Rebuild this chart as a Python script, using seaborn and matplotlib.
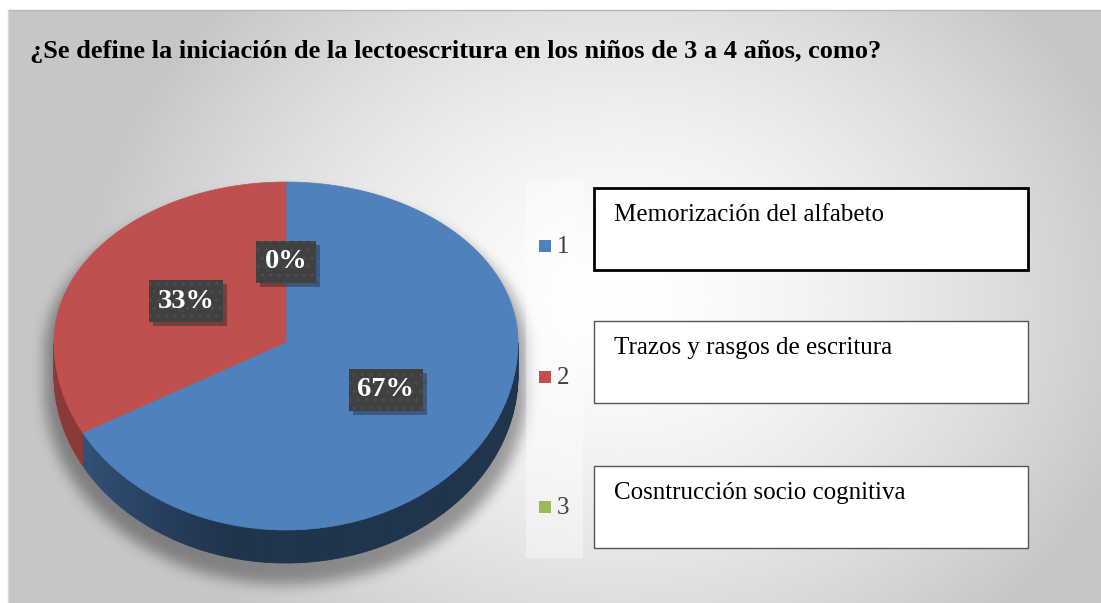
import numpy as np
import matplotlib
matplotlib.use("Agg")
import matplotlib.pyplot as plt
from matplotlib.patches import Polygon, Rectangle
import matplotlib.patheffects as pe
import seaborn as sns

# data
categories = ["1", "2", "3"]
shares = [67, 33, 0]
descriptions = ["Memorización del alfabeto",
                "Trazos y rasgos de escritura",
                "Cosntrucción socio cognitiva"]
title = "¿Se define la iniciación de la lectoescritura en los niños de 3 a 4 años, como?"

sns.set_theme(style="white")
plt.rcParams['font.family'] = ['Liberation Serif', 'DejaVu Serif']
palette = sns.color_palette(["#4F81BD", "#C0504D", "#9BBB59"])

W, H = 1101, 603
fig = plt.figure(figsize=(W / 100, H / 100), dpi=100)
ax = fig.add_axes([0, 0, 1, 1])
ax.set_xlim(0, W)
ax.set_ylim(H, 0)
ax.axis('off')

# radial grey background of the chart area
left, top = 8, 10
yy, xx = np.mgrid[0:H, 0:W] + 0.5
d = np.sqrt(((xx - 620) / 540) ** 2 + ((yy - 300) / 440) ** 2)
bg = 255 - 57 * np.clip(d, 0, 1) ** 1.5
bg[:top, :] = 255
bg[:, :left] = 255
ax.imshow(np.dstack([bg, bg, bg]).astype(np.uint8), extent=(0, W, H, 0),
          interpolation='bilinear', zorder=0)
ax.set_aspect('auto')
ax.plot([left, W], [top, top], color="#b8b8b8", lw=1, zorder=1)
ax.plot([left, left], [top, H], color="#d8d8d8", lw=1, zorder=1)

# pie geometry (perspective: front half taller than back half)
cx, cy = 286, 342
rx, ry_back, ry_front = 232, 160, 188
depth = 33


def pt(theta):
    th = np.radians(theta)
    s = np.sin(th)
    ry = np.where(s > 0, ry_back, ry_front)
    return cx + rx * np.cos(th), cy - ry * s


# soft shadow under the pie
u = (xx - cx) / (rx * 1.04)
inside = np.abs(u) <= 1
s = np.sqrt(np.clip(1 - u ** 2, 0, None))
mask = (inside & (yy >= cy - ry_back * s + 10) & (yy <= cy + ry_front * 1.04 * s + depth + 14)).astype(float)


def box_blur(a, r):
    for axis in (0, 1):
        c = np.cumsum(np.pad(a, [(r + 1, r) if i == axis else (0, 0) for i in range(2)], mode='edge'), axis=axis)
        if axis == 0:
            a = (c[2 * r + 1:, :] - c[:-2 * r - 1, :]) / (2 * r + 1)
        else:
            a = (c[:, 2 * r + 1:] - c[:, :-2 * r - 1]) / (2 * r + 1)
    return a


for _ in range(3):
    mask = box_blur(mask, 6)
shadow = np.zeros((H, W, 4))
shadow[..., 3] = 0.36 * mask
ax.imshow(shadow, extent=(0, W, H, 0), interpolation='bilinear', zorder=1)
ax.set_aspect('auto')

# slice angles, clockwise from 12 o'clock
fracs = np.array(shares, dtype=float) / sum(shares)
ends = 90 - 360 * np.cumsum(fracs)
starts = np.concatenate([[90], ends[:-1]])

# side wall (front half only)
side_dark = {0: 0.40, 1: 0.72, 2: 0.6}
for i, (a0, a1) in enumerate(zip(starts, ends)):
    for t0 in np.arange(a1, a0, 1.0):
        t1 = min(t0 + 1.0, a0)
        tm = (t0 + t1) / 2 % 360
        if not (180 <= tm <= 360):
            continue
        if i == 0:
            f = 0.40 + 0.38 * np.clip((256 - tm) / 76, 0, 1)
        else:
            f = side_dark[i]
        col = np.array(palette[i]) * f
        x0, y0 = pt(t0)
        x1, y1 = pt(t1)
        ax.add_patch(Polygon([(x0, y0), (x1, y1), (x1, y1 + depth), (x0, y0 + depth)],
                             closed=True, facecolor=col, edgecolor=col, lw=0.6, zorder=2))

# top faces
for i, (a0, a1) in enumerate(zip(starts, ends)):
    if a0 == a1:
        continue
    th = np.linspace(a0, a1, 200)
    xs, ys = pt(th)
    verts = [(cx, cy)] + list(zip(xs, ys))
    ax.add_patch(Polygon(verts, closed=True, facecolor=palette[i],
                         edgecolor=palette[i], lw=0.5, zorder=3))

# data labels
for i, (a0, a1) in enumerate(zip(starts, ends)):
    mid = (a0 + a1) / 2
    th = np.radians(mid)
    ry = ry_back if np.sin(th) > 0 else ry_front
    lx = cx + 0.5 * rx * np.cos(th)
    ly = cy - 0.5 * ry * np.sin(th)
    t = ax.text(lx, ly, f"{fracs[i] * 100:.0f}%", ha='center', va='center',
                fontsize=20.5, fontweight='bold', color='white', zorder=5,
                bbox=dict(boxstyle='square,pad=0.3', facecolor='#404040',
                          edgecolor='#4c4c4c', lw=0, hatch='..'))
    t.get_bbox_patch().set_path_effects([
        pe.SimplePatchShadow(offset=(3, -3), alpha=0.35), pe.Normal()])

# title
ax.text(30, 58, title, fontsize=19, fontweight='bold', color='black',
        va='baseline', ha='left', zorder=5)

# legend column
ax.add_patch(Rectangle((526, 180), 57, 378, facecolor='white', alpha=0.4,
                       edgecolor='none', zorder=2))
leg_y0, leg_step = 246, 130.5
for i, cat in enumerate(categories):
    y = leg_y0 + i * leg_step
    ax.add_patch(Rectangle((539, y - 6), 12, 12, facecolor=palette[i],
                           edgecolor='none', zorder=4))
    ax.text(557, y + 1, cat, fontsize=18, color='#404040', va='center',
            ha='left', zorder=4)

# description boxes
box_tops = [188, 321, 466]
for i, desc in enumerate(descriptions):
    y = box_tops[i]
    ax.add_patch(Rectangle((594, y), 434, 82, facecolor='white',
                           edgecolor='black' if i == 0 else '#555555',
                           lw=2 if i == 0 else 1, zorder=4))
    ax.text(614, y + 33, desc, fontsize=18, color='black', va='baseline',
            ha='left', zorder=5)

fig.savefig("out.png", dpi=100)
